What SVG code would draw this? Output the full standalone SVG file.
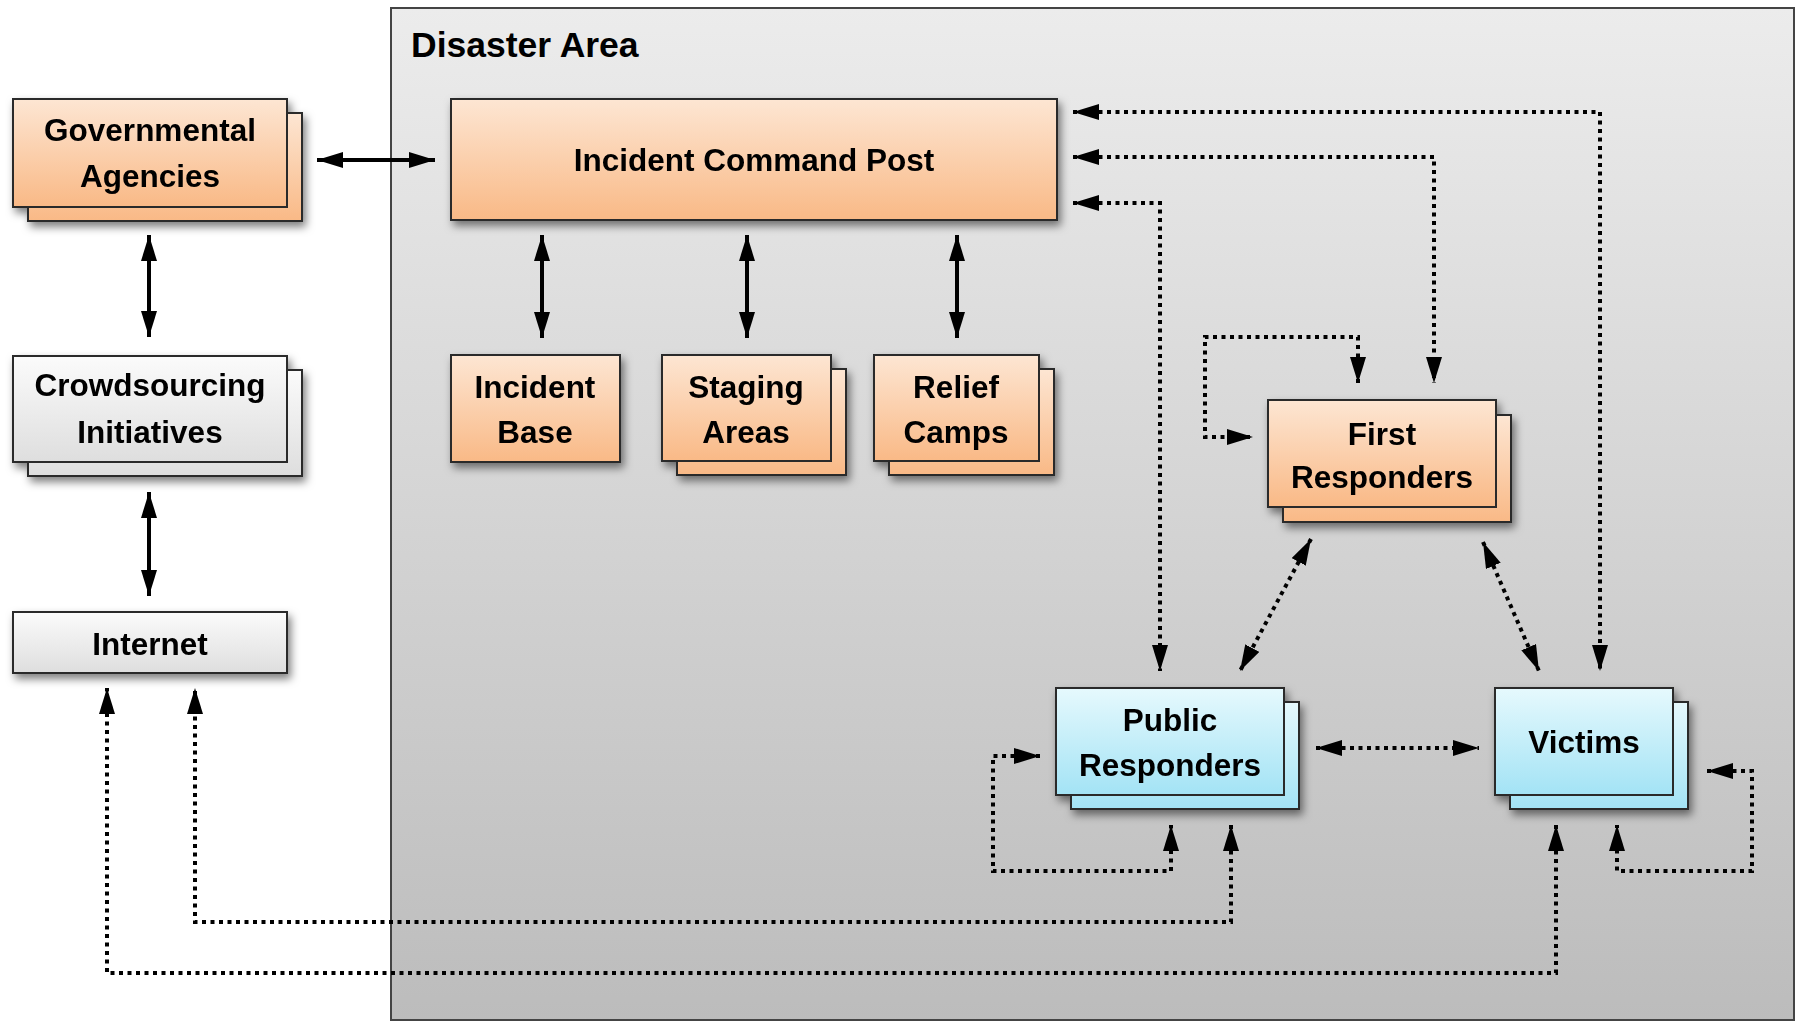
<svg xmlns="http://www.w3.org/2000/svg" width="1799" height="1022" viewBox="0 0 1799 1022">
<style>
  .lbl{font-family:"Liberation Sans",Arial,sans-serif;font-weight:bold;font-size:31.5px;fill:#000;text-anchor:middle}
  .title{font-family:"Liberation Sans",Arial,sans-serif;font-weight:bold;font-size:35.5px;fill:#000}
  .box{stroke:#2a2a2a;stroke-width:2}
  .or{fill:url(#gOr)}
  .bl{fill:url(#gBl)}
  .gr{fill:url(#gGr)}
  .solid{fill:none;stroke:#000;stroke-width:4;marker-start:url(#ah);marker-end:url(#ah)}
  .dot{fill:none;stroke:#000;stroke-width:4;stroke-dasharray:4 4.5;marker-start:url(#ah);marker-end:url(#ah)}
</style>
<defs>
  <linearGradient id="gOr" x1="0" y1="0" x2="0" y2="1">
    <stop offset="0" stop-color="#fde6d3"/>
    <stop offset="1" stop-color="#f9b986"/>
  </linearGradient>
  <linearGradient id="gBl" x1="0" y1="0" x2="0" y2="1">
    <stop offset="0" stop-color="#e6f9fd"/>
    <stop offset="1" stop-color="#a3e3f5"/>
  </linearGradient>
  <linearGradient id="gGr" x1="0" y1="0" x2="0" y2="1">
    <stop offset="0" stop-color="#fbfbfb"/>
    <stop offset="1" stop-color="#dedede"/>
  </linearGradient>
  <linearGradient id="gArea" x1="0" y1="0" x2="0" y2="1">
    <stop offset="0" stop-color="#ececec"/>
    <stop offset="1" stop-color="#bcbcbc"/>
  </linearGradient>
  <filter id="sh" x="-20%" y="-20%" width="140%" height="150%">
    <feDropShadow dx="3" dy="5" stdDeviation="4" flood-color="#000" flood-opacity="0.5"/>
  </filter>
  <marker id="ah" markerUnits="userSpaceOnUse" markerWidth="26" markerHeight="16" refX="26" refY="8" orient="auto-start-reverse">
    <path d="M0,0 L26,8 L0,16 Z" fill="#000"/>
  </marker>
</defs>

<g id="disaster-area">
  <rect x="391" y="8" width="1403" height="1012" fill="url(#gArea)" stroke="#444" stroke-width="2"/>
  <text class="title" x="411" y="57">Disaster Area</text>
</g>

<g id="governmental-agencies" filter="url(#sh)">
  <rect class="box or" x="28" y="113" width="274" height="108"/>
  <rect class="box or" x="13" y="99" width="274" height="108"/>
  <text class="lbl" x="150" y="141">Governmental</text>
  <text class="lbl" x="150" y="187">Agencies</text>
</g>

<g id="crowdsourcing-initiatives" filter="url(#sh)">
  <rect class="box gr" x="28" y="370" width="274" height="106"/>
  <rect class="box gr" x="13" y="356" width="274" height="106"/>
  <text class="lbl" x="150" y="396">Crowdsourcing</text>
  <text class="lbl" x="150" y="443">Initiatives</text>
</g>

<g id="internet" filter="url(#sh)">
  <rect class="box gr" x="13" y="612" width="274" height="61"/>
  <text class="lbl" x="150" y="655">Internet</text>
</g>

<g id="incident-command-post" filter="url(#sh)">
  <rect class="box or" x="451" y="99" width="606" height="121"/>
  <text class="lbl" x="754" y="171">Incident Command Post</text>
</g>

<g id="incident-base" filter="url(#sh)">
  <rect class="box or" x="451" y="355" width="169" height="107"/>
  <text class="lbl" x="535" y="398">Incident</text>
  <text class="lbl" x="535" y="443">Base</text>
</g>

<g id="staging-areas" filter="url(#sh)">
  <rect class="box or" x="677" y="369" width="169" height="106"/>
  <rect class="box or" x="662" y="355" width="169" height="106"/>
  <text class="lbl" x="746" y="398">Staging</text>
  <text class="lbl" x="746" y="443">Areas</text>
</g>

<g id="relief-camps" filter="url(#sh)">
  <rect class="box or" x="889" y="369" width="165" height="106"/>
  <rect class="box or" x="874" y="355" width="165" height="106"/>
  <text class="lbl" x="956" y="398">Relief</text>
  <text class="lbl" x="956" y="443">Camps</text>
</g>

<g id="first-responders" filter="url(#sh)">
  <rect class="box or" x="1283" y="415" width="228" height="107"/>
  <rect class="box or" x="1268" y="400" width="228" height="107"/>
  <text class="lbl" x="1382" y="445">First</text>
  <text class="lbl" x="1382" y="488">Responders</text>
</g>

<g id="public-responders" filter="url(#sh)">
  <rect class="box bl" x="1071" y="702" width="228" height="107"/>
  <rect class="box bl" x="1056" y="688" width="228" height="107"/>
  <text class="lbl" x="1170" y="731">Public</text>
  <text class="lbl" x="1170" y="776">Responders</text>
</g>

<g id="victims" filter="url(#sh)">
  <rect class="box bl" x="1510" y="702" width="178" height="107"/>
  <rect class="box bl" x="1495" y="688" width="178" height="107"/>
  <text class="lbl" x="1584" y="753">Victims</text>
</g>

<g id="connectors">
  <path class="solid" d="M317,160 L435,160"/>
  <path class="solid" d="M149,235 L149,337"/>
  <path class="solid" d="M149,492 L149,596"/>
  <path class="solid" d="M542,235 L542,338"/>
  <path class="solid" d="M747,235 L747,338"/>
  <path class="solid" d="M957,235 L957,338"/>

  <path class="dot" d="M1073,112 H1600 V671"/>
  <path class="dot" d="M1073,157 H1434 V383"/>
  <path class="dot" d="M1073,203 H1160 V671"/>
  <path class="dot" d="M1358,383 V337 H1205 V437 H1253"/>
  <path class="dot" d="M1311,539 L1240,671"/>
  <path class="dot" d="M1483,542 L1539,671"/>
  <path class="dot" d="M1316,748 L1479,748"/>
  <path class="dot" d="M1040,756 H993 V871 H1171 V825"/>
  <path class="dot" d="M1707,771 H1752 V871 H1617 V825"/>
  <path class="dot" d="M1231,825 V922 H195 V688"/>
  <path class="dot" d="M1556,825 V973 H107 V688"/>
</g>
</svg>
